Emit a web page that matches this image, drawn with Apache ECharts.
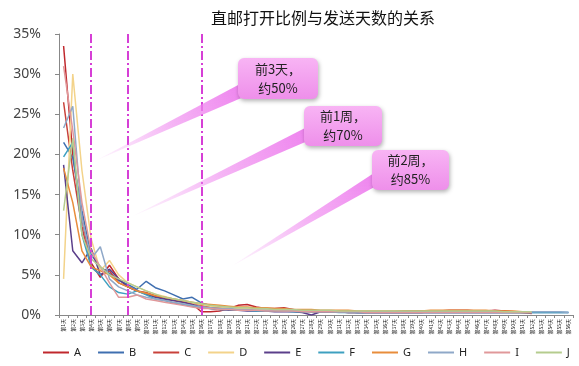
<!DOCTYPE html>
<html><head><meta charset="utf-8">
<script src="https://cdn.jsdelivr.net/npm/echarts@6/dist/echarts.min.js"></script>
<style>html,body{margin:0;padding:0;background:#fff}#c{width:579px;height:366px}</style>
</head><body><div id="c"></div>
<script>
var dayCount = 56;
var days = [];
for (var i = 1; i <= dayCount; i++) days.push('第' + i + '天');
var seriesNames = ['A','B','C','D','E','F','G','H','I','J'];
var colors = ['#C0282D','#3F6FB0','#C8413A','#F3D38A','#5B3F8A','#3EA0C0','#E88D3B','#8FA8C8','#E0989A','#B5CC8E'];
var A = [33.5,20,12,6.5,4.7,6.2,4.5,3.5,3,2.6,2.3,2,1.8,1.6,1.4,0.4,0.4,0.5,0.8,1.2,1.3,1,0.8,0.8,0.9,0.7,0.5,0.5,0.4,0.4,0.4,0.3,0.3,0.3,0.3,0.3,0.3,0.3,0.3,0.3,0.4,0.5,0.5,0.5,0.4,0.4,0.5,0.6,0.5,0.4,0.3,0.2,null,null,null,null];
var B = [21.5,19.6,13,7.5,6,5.2,4.3,3.8,3.2,4.2,3.4,3,2.5,2,2.2,1.5,1.2,1,0.9,0.8,0.8,0.7,0.7,0.6,0.6,0.5,0.5,0.5,0.4,0.4,0.4,0.4,0.3,0.3,0.3,0.3,0.3,0.3,0.3,0.3,0.3,0.3,0.3,0.3,0.3,0.3,0.3,0.3,0.3,0.3,0.3,0.3,0.3,0.3,0.3,0.3];
var C = [26.5,18,11,6,5,5.5,4,3.5,3,2.8,2.4,2.1,1.9,1.7,1.5,1.2,1,0.9,0.8,0.8,0.7,0.7,0.6,0.6,0.5,0.5,0.5,0.4,0.4,0.4,0.4,0.4,0.4,0.4,0.4,0.4,0.4,0.5,0.5,0.5,0.5,0.5,0.6,0.6,0.6,0.5,0.5,0.5,0.5,0.4,0.4,0.3,null,null,null,null];
var D = [4.5,30,18,9.5,5.5,6.8,5,4,3.5,3,2.6,2.3,2,1.8,1.5,1.3,1.1,1,0.9,0.8,0.8,0.7,0.7,0.6,0.6,0.5,0.5,0.5,0.5,0.4,0.4,0.4,0.4,0.4,0.4,0.4,0.4,0.4,0.4,0.4,0.4,0.4,0.4,0.4,0.4,0.4,0.4,0.4,0.4,0.3,0.3,0.3,null,null,null,null];
var E = [18.7,8,6.5,8.3,5,5.7,4.5,3.5,3,2.6,2.2,2,1.8,1.6,1.3,1,0.8,0.7,0.6,0.6,0.5,0.5,0.5,0.4,0.4,0.4,0.3,0.0,0.4,0.4,0.4,0.3,0.3,0.3,0.3,0.3,0.3,0.3,0.3,0.3,0.3,0.3,0.3,0.3,0.3,0.3,0.3,0.3,0.3,0.3,0.3,0.3,null,null,null,null];
var F = [19.7,21.5,10,6,5,3.5,2.8,2.6,3,2.5,2,1.8,1.5,1.3,1.1,0.9,0.8,0.7,0.7,0.6,0.6,0.5,0.5,0.5,0.5,0.4,0.4,0.4,0.4,0.4,0.3,0.3,0.3,0.3,0.3,0.3,0.3,0.3,0.3,0.3,0.3,0.3,0.3,0.3,0.3,0.3,0.3,0.3,0.3,0.3,0.3,0.3,0.3,0.3,0.3,0.3];
var G = [18.3,14,8,6,5.5,5,4,3.5,3,2.7,2.4,2.2,2,1.8,1.6,1.4,1.3,1.2,1.1,1,1,0.9,0.9,0.8,0.8,0.7,0.7,0.7,0.6,0.6,0.6,0.6,0.5,0.5,0.5,0.5,0.5,0.5,0.5,0.5,0.6,0.6,0.6,0.6,0.6,0.6,0.6,0.5,0.5,0.5,0.4,0.4,null,null,null,null];
var H = [23.3,26,12,7,8.5,4.5,3.5,3,2.5,2.2,2,1.8,1.6,1.4,1.2,1,0.9,0.8,0.8,0.7,0.7,0.6,0.6,0.6,0.5,0.5,0.5,0.5,0.4,0.4,0.4,0.4,0.4,0.4,0.4,0.4,0.4,0.4,0.4,0.4,0.4,0.4,0.4,0.4,0.4,0.4,0.4,0.4,0.4,0.4,0.4,0.4,0.4,0.4,0.4,0.3];
var I = [31,23,14,8,6,4,2.2,2.2,2.5,2,1.8,1.6,1.4,1.2,1,0.8,0.8,0.7,0.7,0.6,0.6,0.6,0.5,0.5,0.5,0.5,0.4,0.4,0.4,0.4,0.4,0.4,0.4,0.3,0.3,0.3,0.3,0.3,0.3,0.3,0.3,0.3,0.3,0.3,0.3,0.3,0.3,0.3,0.3,0.3,0.3,0.3,null,null,null,null];
var J = [13,22,10,7,6,5,4.5,4,3.5,3,2.6,2.2,2,1.8,1.6,1.4,1.2,1.1,1,0.9,0.9,0.8,0.8,0.7,0.7,0.7,0.6,0.6,0.6,0.6,0.5,0.5,0.5,0.5,0.5,0.5,0.5,0.5,0.5,0.5,0.5,0.5,0.5,0.5,0.5,0.5,0.5,0.5,0.4,0.4,0.4,0.4,null,null,null,null];
var seriesData = [A,B,C,D,E,F,G,H,I,J];
var yTicks = [0,5,10,15,20,25,30,35];
var markDays = ['第4天','第8天','第16天'];
var notes = ['前3天，\n约50%','前1周，\n约70%','前2周，\n约85%'];

var chart = echarts.init(document.getElementById('c'));
var series = seriesNames.map(function(n, k){
  var s = {name:n, type:'line', data:seriesData[k], showSymbol:false, symbol:'none',
    lineStyle:{width:1.5, color:colors[k]}, itemStyle:{color:colors[k]}, connectNulls:false, z:3};
  if (k === 0) {
    s.markLine = {silent:true, symbol:'none', label:{show:false},
      lineStyle:{color:'#D63FD6', width:2, type:[9,3,2,3]},
      data: markDays.map(function(d){return {xAxis:d};})};
  }
  return s;
});
chart.setOption({
  animation:false,
  color:colors,
  title:{text:'直邮打开比例与发送天数的关系', left:318, textAlign:'center', top:5,
    textStyle:{fontSize:16, fontWeight:'normal', color:'#111', fontFamily:'Noto Sans CJK SC'}},
  grid:{left:59, right:6, top:34, bottom:51},
  legend:{bottom:3, left:38, itemWidth:26, itemHeight:2, icon:'rect', itemGap:17,
    textStyle:{fontSize:11, color:'#222', fontFamily:'Noto Sans'}, data:seriesNames},
  xAxis:{type:'category', data:days, boundaryGap:true,
    axisLine:{lineStyle:{color:'#888'}}, axisTick:{show:true, interval:0, lineStyle:{color:'#888'}, length:3},
    axisLabel:{interval:0, rotate:90, fontSize:5, color:'#222', margin:4, fontFamily:'Noto Sans CJK SC'}},
  yAxis:{type:'value', min:0, max:35, interval:5,
    axisLine:{show:true, lineStyle:{color:'#888'}}, axisTick:{show:true, lineStyle:{color:'#888'}, length:4},
    splitLine:{show:false},
    axisLabel:{formatter:function(v){return v+'%';}, fontSize:14, color:'#444', margin:18, fontFamily:'Noto Sans'}},
  series:series
});

function boxGraphic(x, y, w, h, text) {
  return {type:'group', children:[
    {type:'rect', shape:{x:x, y:y, width:w, height:h, r:6}, z:20,
     style:{fill:{type:'linear',x:0,y:0,x2:0,y2:1,colorStops:[{offset:0,color:'#F8B4F4'},{offset:1,color:'#EE8FEA'}]},
       shadowBlur:4, shadowColor:'rgba(0,0,0,0.3)', shadowOffsetX:1, shadowOffsetY:2}},
    {type:'text', z:21, style:{x:x+w/2, y:y+h/2, text:text, textAlign:'center', textVerticalAlign:'middle',
       fontSize:13, lineHeight:19, fill:'#222', fontFamily:'Noto Sans CJK SC'}}
  ]};
}
function wedge(tip, p1, p2) {
  return {type:'polygon', z:15, shape:{points:[tip, p1, p2]},
    style:{fill:{type:'linear', x:0, y:1, x2:1, y2:0, colorStops:[{offset:0,color:'rgba(238,130,238,0.05)'},{offset:0.5,color:'rgba(238,130,238,0.6)'},{offset:1,color:'rgba(238,130,238,1)'}]}}};
}
chart.setOption({graphic:[
  wedge([97,160],[240,84],[246,96]),
  wedge([133,216],[305,128],[310,140]),
  wedge([232,266],[374,173],[378,185]),
  boxGraphic(238,58,80,41,notes[0]),
  boxGraphic(304,106,78,40,notes[1]),
  boxGraphic(372,150,77,40,notes[2])
]});
</script></body></html>
